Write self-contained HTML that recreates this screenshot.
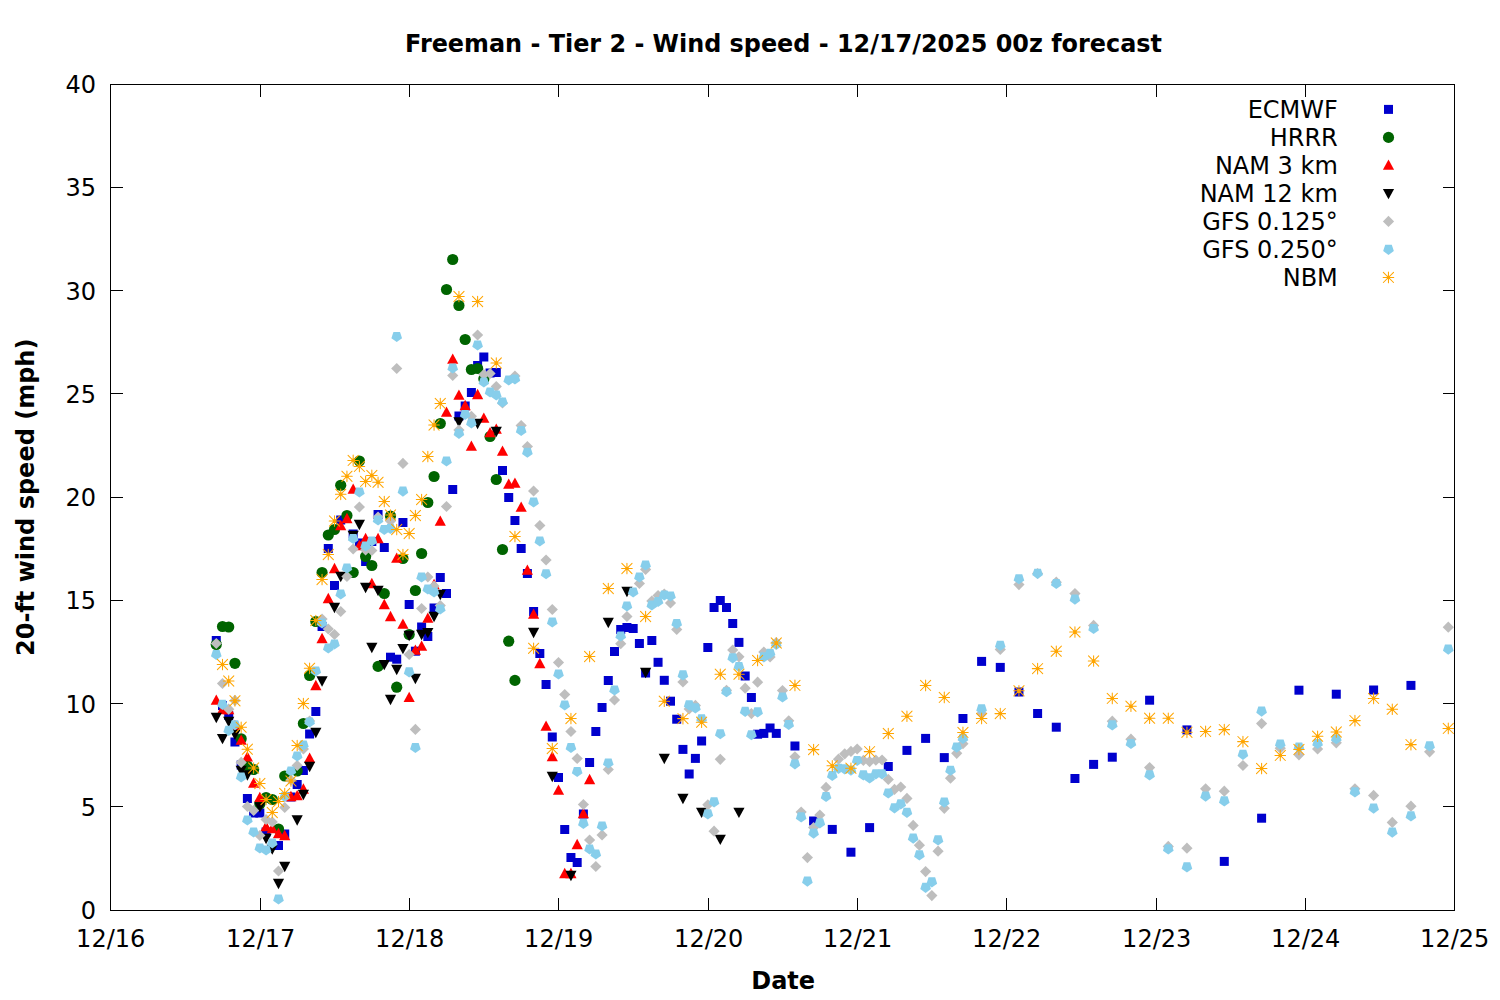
<!DOCTYPE html><html><head><meta charset="utf-8"><title>Freeman - Tier 2 - Wind speed</title><style>html,body{margin:0;padding:0;background:#fff;width:1500px;height:1000px;overflow:hidden}svg{display:block}text{font-family:"DejaVu Sans","Liberation Sans",sans-serif;font-size:24px;fill:#000}.b{font-weight:bold}.t{font-size:23.9px}</style></head><body>
<svg width="1500" height="1000" viewBox="0 0 1500 1000">
<rect width="1500" height="1000" fill="#fff"/>
<g fill="#0000cd"><rect x="211.78" y="636.00" width="9" height="9"/><rect x="218.00" y="701.10" width="9" height="9"/><rect x="224.22" y="710.90" width="9" height="9"/><rect x="230.44" y="737.50" width="9" height="9"/><rect x="236.67" y="760.50" width="9" height="9"/><rect x="242.89" y="794.00" width="9" height="9"/><rect x="249.11" y="808.50" width="9" height="9"/><rect x="255.33" y="808.50" width="9" height="9"/><rect x="261.56" y="827.50" width="9" height="9"/><rect x="274.00" y="841.00" width="9" height="9"/><rect x="280.22" y="829.50" width="9" height="9"/><rect x="286.44" y="792.50" width="9" height="9"/><rect x="292.67" y="780.00" width="9" height="9"/><rect x="298.89" y="766.00" width="9" height="9"/><rect x="305.11" y="729.50" width="9" height="9"/><rect x="311.33" y="707.00" width="9" height="9"/><rect x="317.56" y="622.00" width="9" height="9"/><rect x="330.00" y="581.00" width="9" height="9"/><rect x="336.22" y="515.50" width="9" height="9"/><rect x="348.67" y="529.50" width="9" height="9"/><rect x="354.89" y="538.50" width="9" height="9"/><rect x="361.11" y="557.00" width="9" height="9"/><rect x="367.33" y="537.00" width="9" height="9"/><rect x="373.56" y="510.00" width="9" height="9"/><rect x="379.78" y="543.00" width="9" height="9"/><rect x="386.00" y="652.70" width="9" height="9"/><rect x="392.22" y="654.70" width="9" height="9"/><rect x="398.44" y="518.00" width="9" height="9"/><rect x="404.67" y="600.00" width="9" height="9"/><rect x="410.89" y="646.70" width="9" height="9"/><rect x="417.11" y="622.50" width="9" height="9"/><rect x="423.33" y="632.00" width="9" height="9"/><rect x="429.56" y="603.50" width="9" height="9"/><rect x="435.78" y="573.00" width="9" height="9"/><rect x="442.00" y="589.00" width="9" height="9"/><rect x="448.22" y="485.00" width="9" height="9"/><rect x="454.44" y="411.50" width="9" height="9"/><rect x="460.67" y="401.50" width="9" height="9"/><rect x="466.89" y="388.00" width="9" height="9"/><rect x="473.11" y="361.00" width="9" height="9"/><rect x="479.33" y="352.50" width="9" height="9"/><rect x="485.56" y="368.50" width="9" height="9"/><rect x="491.78" y="368.00" width="9" height="9"/><rect x="498.00" y="466.00" width="9" height="9"/><rect x="504.22" y="493.00" width="9" height="9"/><rect x="510.44" y="516.00" width="9" height="9"/><rect x="516.67" y="544.00" width="9" height="9"/><rect x="522.89" y="569.00" width="9" height="9"/><rect x="529.11" y="607.00" width="9" height="9"/><rect x="535.33" y="649.00" width="9" height="9"/><rect x="541.56" y="680.00" width="9" height="9"/><rect x="547.78" y="732.50" width="9" height="9"/><rect x="554.00" y="773.00" width="9" height="9"/><rect x="560.22" y="825.00" width="9" height="9"/><rect x="566.44" y="853.00" width="9" height="9"/><rect x="572.67" y="858.00" width="9" height="9"/><rect x="578.89" y="809.50" width="9" height="9"/><rect x="585.11" y="758.00" width="9" height="9"/><rect x="591.33" y="727.00" width="9" height="9"/><rect x="597.56" y="703.00" width="9" height="9"/><rect x="603.78" y="676.00" width="9" height="9"/><rect x="610.00" y="647.00" width="9" height="9"/><rect x="616.22" y="625.00" width="9" height="9"/><rect x="622.44" y="623.00" width="9" height="9"/><rect x="628.67" y="624.00" width="9" height="9"/><rect x="634.89" y="639.00" width="9" height="9"/><rect x="641.11" y="668.50" width="9" height="9"/><rect x="647.33" y="636.00" width="9" height="9"/><rect x="653.56" y="657.80" width="9" height="9"/><rect x="659.78" y="675.80" width="9" height="9"/><rect x="666.00" y="696.70" width="9" height="9"/><rect x="672.22" y="714.70" width="9" height="9"/><rect x="678.44" y="744.90" width="9" height="9"/><rect x="684.67" y="769.50" width="9" height="9"/><rect x="690.89" y="753.90" width="9" height="9"/><rect x="697.11" y="736.50" width="9" height="9"/><rect x="703.33" y="643.00" width="9" height="9"/><rect x="709.56" y="603.00" width="9" height="9"/><rect x="715.78" y="596.00" width="9" height="9"/><rect x="722.00" y="603.00" width="9" height="9"/><rect x="728.22" y="619.00" width="9" height="9"/><rect x="323.78" y="544.00" width="9" height="9"/><rect x="740.67" y="671.50" width="9" height="9"/><rect x="746.89" y="693.00" width="9" height="9"/><rect x="753.11" y="729.70" width="9" height="9"/><rect x="759.33" y="728.90" width="9" height="9"/><rect x="765.56" y="723.50" width="9" height="9"/><rect x="771.78" y="728.90" width="9" height="9"/><rect x="790.44" y="741.50" width="9" height="9"/><rect x="809.11" y="816.50" width="9" height="9"/><rect x="827.78" y="824.90" width="9" height="9"/><rect x="846.44" y="847.70" width="9" height="9"/><rect x="865.11" y="823.10" width="9" height="9"/><rect x="883.78" y="762.00" width="9" height="9"/><rect x="902.44" y="745.90" width="9" height="9"/><rect x="921.11" y="733.90" width="9" height="9"/><rect x="939.78" y="753.10" width="9" height="9"/><rect x="958.44" y="714.00" width="9" height="9"/><rect x="977.11" y="656.90" width="9" height="9"/><rect x="995.78" y="662.90" width="9" height="9"/><rect x="1014.44" y="687.50" width="9" height="9"/><rect x="1033.11" y="709.00" width="9" height="9"/><rect x="1051.78" y="722.70" width="9" height="9"/><rect x="1070.44" y="774.00" width="9" height="9"/><rect x="1089.11" y="759.90" width="9" height="9"/><rect x="1107.78" y="752.70" width="9" height="9"/><rect x="1145.11" y="695.70" width="9" height="9"/><rect x="1182.44" y="725.40" width="9" height="9"/><rect x="1219.78" y="856.90" width="9" height="9"/><rect x="1257.11" y="813.70" width="9" height="9"/><rect x="1294.44" y="685.70" width="9" height="9"/><rect x="1331.78" y="689.70" width="9" height="9"/><rect x="1369.11" y="685.50" width="9" height="9"/><rect x="1406.44" y="680.90" width="9" height="9"/><rect x="734.44" y="637.90" width="9" height="9"/></g>
<g fill="#006400"><circle cx="303.39" cy="723.50" r="5.6"/><circle cx="216.28" cy="644.50" r="5.6"/><circle cx="222.50" cy="626.50" r="5.6"/><circle cx="228.72" cy="627.00" r="5.6"/><circle cx="234.94" cy="663.30" r="5.6"/><circle cx="241.17" cy="738.80" r="5.6"/><circle cx="247.39" cy="766.00" r="5.6"/><circle cx="253.61" cy="769.50" r="5.6"/><circle cx="259.83" cy="804.00" r="5.6"/><circle cx="266.06" cy="797.50" r="5.6"/><circle cx="272.28" cy="799.50" r="5.6"/><circle cx="278.50" cy="829.00" r="5.6"/><circle cx="284.72" cy="776.00" r="5.6"/><circle cx="297.17" cy="771.00" r="5.6"/><circle cx="315.83" cy="621.50" r="5.6"/><circle cx="309.61" cy="675.50" r="5.6"/><circle cx="322.06" cy="572.50" r="5.6"/><circle cx="353.17" cy="572.50" r="5.6"/><circle cx="328.28" cy="535.00" r="5.6"/><circle cx="334.50" cy="529.50" r="5.6"/><circle cx="340.72" cy="485.30" r="5.6"/><circle cx="346.94" cy="515.50" r="5.6"/><circle cx="359.39" cy="461.00" r="5.6"/><circle cx="365.61" cy="556.50" r="5.6"/><circle cx="371.83" cy="565.50" r="5.6"/><circle cx="378.06" cy="666.40" r="5.6"/><circle cx="384.28" cy="593.50" r="5.6"/><circle cx="390.50" cy="516.00" r="5.6"/><circle cx="396.72" cy="687.20" r="5.6"/><circle cx="402.94" cy="558.50" r="5.6"/><circle cx="409.17" cy="634.50" r="5.6"/><circle cx="415.39" cy="590.50" r="5.6"/><circle cx="421.61" cy="553.50" r="5.6"/><circle cx="427.83" cy="502.50" r="5.6"/><circle cx="434.06" cy="476.50" r="5.6"/><circle cx="440.28" cy="423.50" r="5.6"/><circle cx="446.50" cy="289.50" r="5.6"/><circle cx="452.72" cy="259.50" r="5.6"/><circle cx="458.94" cy="305.50" r="5.6"/><circle cx="465.17" cy="339.50" r="5.6"/><circle cx="471.39" cy="369.50" r="5.6"/><circle cx="477.61" cy="368.50" r="5.6"/><circle cx="483.83" cy="379.00" r="5.6"/><circle cx="490.06" cy="436.50" r="5.6"/><circle cx="496.28" cy="479.50" r="5.6"/><circle cx="502.50" cy="549.50" r="5.6"/><circle cx="508.72" cy="641.20" r="5.6"/><circle cx="514.94" cy="680.40" r="5.6"/></g>
<g fill="#ff0000"><path d="M216.28 694.45L221.88 704.75H210.68Z"/><path d="M222.50 703.85L228.10 714.15H216.90Z"/><path d="M228.72 703.85L234.32 714.15H223.12Z"/><path d="M234.94 719.65L240.54 729.95H229.34Z"/><path d="M241.17 734.45L246.77 744.75H235.57Z"/><path d="M247.39 751.25L252.99 761.55H241.79Z"/><path d="M253.61 777.55L259.21 787.85H248.01Z"/><path d="M259.83 791.75L265.43 802.05H254.23Z"/><path d="M266.06 820.85L271.66 831.15H260.46Z"/><path d="M272.28 822.85L277.88 833.15H266.68Z"/><path d="M278.50 827.85L284.10 838.15H272.90Z"/><path d="M284.72 829.85L290.32 840.15H279.12Z"/><path d="M290.94 790.85L296.54 801.15H285.34Z"/><path d="M297.17 790.05L302.77 800.35H291.57Z"/><path d="M303.39 783.35L308.99 793.65H297.79Z"/><path d="M309.61 752.55L315.21 762.85H304.01Z"/><path d="M322.06 632.85L327.66 643.15H316.46Z"/><path d="M315.83 679.85L321.43 690.15H310.23Z"/><path d="M328.28 592.85L333.88 603.15H322.68Z"/><path d="M334.50 562.85L340.10 573.15H328.90Z"/><path d="M340.72 519.85L346.32 530.15H335.12Z"/><path d="M346.94 512.85L352.54 523.15H341.34Z"/><path d="M353.17 483.45L358.77 493.75H347.57Z"/><path d="M359.39 539.85L364.99 550.15H353.79Z"/><path d="M365.61 532.85L371.21 543.15H360.01Z"/><path d="M371.83 577.85L377.43 588.15H366.23Z"/><path d="M378.06 532.85L383.66 543.15H372.46Z"/><path d="M384.28 598.85L389.88 609.15H378.68Z"/><path d="M390.50 610.85L396.10 621.15H384.90Z"/><path d="M396.72 552.55L402.32 562.85H391.12Z"/><path d="M402.94 618.55L408.54 628.85H397.34Z"/><path d="M409.17 691.65L414.77 701.95H403.57Z"/><path d="M415.39 644.55L420.99 654.85H409.79Z"/><path d="M421.61 640.55L427.21 650.85H416.01Z"/><path d="M427.83 612.55L433.43 622.85H422.23Z"/><path d="M434.06 578.85L439.66 589.15H428.46Z"/><path d="M440.28 515.55L445.88 525.85H434.68Z"/><path d="M446.50 406.55L452.10 416.85H440.90Z"/><path d="M452.72 353.55L458.32 363.85H447.12Z"/><path d="M458.94 389.55L464.54 399.85H453.34Z"/><path d="M465.17 399.85L470.77 410.15H459.57Z"/><path d="M471.39 440.55L476.99 450.85H465.79Z"/><path d="M477.61 388.85L483.21 399.15H472.01Z"/><path d="M483.83 412.55L489.43 422.85H478.23Z"/><path d="M490.06 427.05L495.66 437.35H484.46Z"/><path d="M496.28 423.55L501.88 433.85H490.68Z"/><path d="M502.50 445.55L508.10 455.85H496.90Z"/><path d="M508.72 478.55L514.32 488.85H503.12Z"/><path d="M514.94 477.55L520.54 487.85H509.34Z"/><path d="M521.17 501.55L526.77 511.85H515.57Z"/><path d="M527.39 564.55L532.99 574.85H521.79Z"/><path d="M533.61 608.55L539.21 618.85H528.01Z"/><path d="M539.83 657.85L545.43 668.15H534.23Z"/><path d="M546.06 720.55L551.66 730.85H540.46Z"/><path d="M552.28 751.05L557.88 761.35H546.68Z"/><path d="M558.50 784.55L564.10 794.85H552.90Z"/><path d="M564.72 867.85L570.32 878.15H559.12Z"/><path d="M570.94 867.85L576.54 878.15H565.34Z"/><path d="M577.17 838.85L582.77 849.15H571.57Z"/><path d="M583.39 807.85L588.99 818.15H577.79Z"/><path d="M589.61 773.85L595.21 784.15H584.01Z"/></g>
<g fill="#000000"><path d="M216.28 723.15L221.88 712.85H210.68Z"/><path d="M222.50 744.35L228.10 734.05H216.90Z"/><path d="M228.72 727.15L234.32 716.85H223.12Z"/><path d="M234.94 739.95L240.54 729.65H229.34Z"/><path d="M241.17 776.15L246.77 765.85H235.57Z"/><path d="M247.39 780.65L252.99 770.35H241.79Z"/><path d="M259.83 812.65L265.43 802.35H254.23Z"/><path d="M266.06 844.15L271.66 833.85H260.46Z"/><path d="M272.28 854.65L277.88 844.35H266.68Z"/><path d="M278.50 889.15L284.10 878.85H272.90Z"/><path d="M284.72 872.15L290.32 861.85H279.12Z"/><path d="M297.17 825.65L302.77 815.35H291.57Z"/><path d="M303.39 800.15L308.99 789.85H297.79Z"/><path d="M309.61 772.15L315.21 761.85H304.01Z"/><path d="M315.83 738.15L321.43 727.85H310.23Z"/><path d="M334.50 613.15L340.10 602.85H328.90Z"/><path d="M322.06 686.65L327.66 676.35H316.46Z"/><path d="M340.72 582.15L346.32 571.85H335.12Z"/><path d="M353.17 541.15L358.77 530.85H347.57Z"/><path d="M359.39 530.15L364.99 519.85H353.79Z"/><path d="M365.61 593.15L371.21 582.85H360.01Z"/><path d="M371.83 653.15L377.43 642.85H366.23Z"/><path d="M378.06 596.15L383.66 585.85H372.46Z"/><path d="M384.28 670.35L389.88 660.05H378.68Z"/><path d="M390.50 705.15L396.10 694.85H384.90Z"/><path d="M396.72 675.15L402.32 664.85H391.12Z"/><path d="M402.94 654.35L408.54 644.05H397.34Z"/><path d="M409.17 641.15L414.77 630.85H403.57Z"/><path d="M415.39 684.15L420.99 673.85H409.79Z"/><path d="M421.61 640.15L427.21 629.85H416.01Z"/><path d="M427.83 638.35L433.43 628.05H422.23Z"/><path d="M434.06 622.15L439.66 611.85H428.46Z"/><path d="M440.28 600.15L445.88 589.85H434.68Z"/><path d="M458.94 427.45L464.54 417.15H453.34Z"/><path d="M477.61 429.15L483.21 418.85H472.01Z"/><path d="M496.28 437.15L501.88 426.85H490.68Z"/><path d="M533.61 638.15L539.21 627.85H528.01Z"/><path d="M552.28 782.15L557.88 771.85H546.68Z"/><path d="M570.94 881.15L576.54 870.85H565.34Z"/><path d="M608.28 628.15L613.88 617.85H602.68Z"/><path d="M626.94 597.15L632.54 586.85H621.34Z"/><path d="M645.61 678.15L651.21 667.85H640.01Z"/><path d="M664.28 764.15L669.88 753.85H658.68Z"/><path d="M682.94 804.15L688.54 793.85H677.34Z"/><path d="M701.61 817.95L707.21 807.65H696.01Z"/><path d="M720.28 845.05L725.88 834.75H714.68Z"/><path d="M738.94 817.95L744.54 807.65H733.34Z"/></g>
<g fill="#bebebe"><path d="M309.61 715.40L315.21 721.00L309.61 726.60L304.01 721.00Z"/><path d="M216.28 637.90L221.88 643.50L216.28 649.10L210.68 643.50Z"/><path d="M222.50 677.90L228.10 683.50L222.50 689.10L216.90 683.50Z"/><path d="M228.72 703.60L234.32 709.20L228.72 714.80L223.12 709.20Z"/><path d="M234.94 694.80L240.54 700.40L234.94 706.00L229.34 700.40Z"/><path d="M241.17 756.80L246.77 762.40L241.17 768.00L235.57 762.40Z"/><path d="M247.39 800.90L252.99 806.50L247.39 812.10L241.79 806.50Z"/><path d="M253.61 804.90L259.21 810.50L253.61 816.10L248.01 810.50Z"/><path d="M259.83 829.90L265.43 835.50L259.83 841.10L254.23 835.50Z"/><path d="M266.06 813.90L271.66 819.50L266.06 825.10L260.46 819.50Z"/><path d="M272.28 816.40L277.88 822.00L272.28 827.60L266.68 822.00Z"/><path d="M278.50 865.40L284.10 871.00L278.50 876.60L272.90 871.00Z"/><path d="M284.72 801.90L290.32 807.50L284.72 813.10L279.12 807.50Z"/><path d="M290.94 774.40L296.54 780.00L290.94 785.60L285.34 780.00Z"/><path d="M297.17 759.90L302.77 765.50L297.17 771.10L291.57 765.50Z"/><path d="M303.39 743.40L308.99 749.00L303.39 754.60L297.79 749.00Z"/><path d="M340.72 605.90L346.32 611.50L340.72 617.10L335.12 611.50Z"/><path d="M322.06 613.40L327.66 619.00L322.06 624.60L316.46 619.00Z"/><path d="M328.28 623.40L333.88 629.00L328.28 634.60L322.68 629.00Z"/><path d="M334.50 628.90L340.10 634.50L334.50 640.10L328.90 634.50Z"/><path d="M346.94 570.90L352.54 576.50L346.94 582.10L341.34 576.50Z"/><path d="M353.17 543.40L358.77 549.00L353.17 554.60L347.57 549.00Z"/><path d="M359.39 501.40L364.99 507.00L359.39 512.60L353.79 507.00Z"/><path d="M365.61 544.40L371.21 550.00L365.61 555.60L360.01 550.00Z"/><path d="M371.83 544.90L377.43 550.50L371.83 556.10L366.23 550.50Z"/><path d="M378.06 511.40L383.66 517.00L378.06 522.60L372.46 517.00Z"/><path d="M390.50 515.40L396.10 521.00L390.50 526.60L384.90 521.00Z"/><path d="M402.94 457.80L408.54 463.40L402.94 469.00L397.34 463.40Z"/><path d="M409.17 648.90L414.77 654.50L409.17 660.10L403.57 654.50Z"/><path d="M421.61 602.90L427.21 608.50L421.61 614.10L416.01 608.50Z"/><path d="M427.83 571.40L433.43 577.00L427.83 582.60L422.23 577.00Z"/><path d="M434.06 580.40L439.66 586.00L434.06 591.60L428.46 586.00Z"/><path d="M440.28 599.90L445.88 605.50L440.28 611.10L434.68 605.50Z"/><path d="M446.50 500.90L452.10 506.50L446.50 512.10L440.90 506.50Z"/><path d="M452.72 369.90L458.32 375.50L452.72 381.10L447.12 375.50Z"/><path d="M458.94 424.40L464.54 430.00L458.94 435.60L453.34 430.00Z"/><path d="M471.39 410.70L476.99 416.30L471.39 421.90L465.79 416.30Z"/><path d="M477.61 329.40L483.21 335.00L477.61 340.60L472.01 335.00Z"/><path d="M483.83 368.90L489.43 374.50L483.83 380.10L478.23 374.50Z"/><path d="M490.06 367.90L495.66 373.50L490.06 379.10L484.46 373.50Z"/><path d="M496.28 380.90L501.88 386.50L496.28 392.10L490.68 386.50Z"/><path d="M502.50 397.40L508.10 403.00L502.50 408.60L496.90 403.00Z"/><path d="M514.94 370.40L520.54 376.00L514.94 381.60L509.34 376.00Z"/><path d="M521.17 419.90L526.77 425.50L521.17 431.10L515.57 425.50Z"/><path d="M527.39 440.90L532.99 446.50L527.39 452.10L521.79 446.50Z"/><path d="M533.61 485.40L539.21 491.00L533.61 496.60L528.01 491.00Z"/><path d="M539.83 519.90L545.43 525.50L539.83 531.10L534.23 525.50Z"/><path d="M546.06 554.40L551.66 560.00L546.06 565.60L540.46 560.00Z"/><path d="M552.28 603.90L557.88 609.50L552.28 615.10L546.68 609.50Z"/><path d="M558.50 656.90L564.10 662.50L558.50 668.10L552.90 662.50Z"/><path d="M564.72 688.90L570.32 694.50L564.72 700.10L559.12 694.50Z"/><path d="M570.94 725.90L576.54 731.50L570.94 737.10L565.34 731.50Z"/><path d="M577.17 752.90L582.77 758.50L577.17 764.10L571.57 758.50Z"/><path d="M583.39 798.90L588.99 804.50L583.39 810.10L577.79 804.50Z"/><path d="M589.61 834.40L595.21 840.00L589.61 845.60L584.01 840.00Z"/><path d="M595.83 860.90L601.43 866.50L595.83 872.10L590.23 866.50Z"/><path d="M602.06 829.40L607.66 835.00L602.06 840.60L596.46 835.00Z"/><path d="M608.28 763.90L613.88 769.50L608.28 775.10L602.68 769.50Z"/><path d="M614.50 694.40L620.10 700.00L614.50 705.60L608.90 700.00Z"/><path d="M620.72 638.10L626.32 643.70L620.72 649.30L615.12 643.70Z"/><path d="M626.94 610.90L632.54 616.50L626.94 622.10L621.34 616.50Z"/><path d="M639.39 577.90L644.99 583.50L639.39 589.10L633.79 583.50Z"/><path d="M645.61 563.90L651.21 569.50L645.61 575.10L640.01 569.50Z"/><path d="M651.83 595.40L657.43 601.00L651.83 606.60L646.23 601.00Z"/><path d="M658.06 589.90L663.66 595.50L658.06 601.10L652.46 595.50Z"/><path d="M664.28 588.40L669.88 594.00L664.28 599.60L658.68 594.00Z"/><path d="M670.50 597.40L676.10 603.00L670.50 608.60L664.90 603.00Z"/><path d="M676.72 623.90L682.32 629.50L676.72 635.10L671.12 629.50Z"/><path d="M682.94 676.40L688.54 682.00L682.94 687.60L677.34 682.00Z"/><path d="M689.17 703.40L694.77 709.00L689.17 714.60L683.57 709.00Z"/><path d="M695.39 699.80L700.99 705.40L695.39 711.00L689.79 705.40Z"/><path d="M707.83 799.20L713.43 804.80L707.83 810.40L702.23 804.80Z"/><path d="M714.06 825.60L719.66 831.20L714.06 836.80L708.46 831.20Z"/><path d="M720.28 753.70L725.88 759.30L720.28 764.90L714.68 759.30Z"/><path d="M726.50 684.70L732.10 690.30L726.50 695.90L720.90 690.30Z"/><path d="M732.72 644.40L738.32 650.00L732.72 655.60L727.12 650.00Z"/><path d="M396.72 362.90L402.32 368.50L396.72 374.10L391.12 368.50Z"/><path d="M415.39 723.80L420.99 729.40L415.39 735.00L409.79 729.40Z"/><path d="M738.94 651.20L744.54 656.80L738.94 662.40L733.34 656.80Z"/><path d="M745.17 682.60L750.77 688.20L745.17 693.80L739.57 688.20Z"/><path d="M751.39 708.00L756.99 713.60L751.39 719.20L745.79 713.60Z"/><path d="M757.61 676.60L763.21 682.20L757.61 687.80L752.01 682.20Z"/><path d="M763.83 646.40L769.43 652.00L763.83 657.60L758.23 652.00Z"/><path d="M770.06 651.40L775.66 657.00L770.06 662.60L764.46 657.00Z"/><path d="M776.28 636.90L781.88 642.50L776.28 648.10L770.68 642.50Z"/><path d="M782.50 685.00L788.10 690.60L782.50 696.20L776.90 690.60Z"/><path d="M788.72 715.20L794.32 720.80L788.72 726.40L783.12 720.80Z"/><path d="M794.94 751.20L800.54 756.80L794.94 762.40L789.34 756.80Z"/><path d="M801.17 806.40L806.77 812.00L801.17 817.60L795.57 812.00Z"/><path d="M807.39 852.00L812.99 857.60L807.39 863.20L801.79 857.60Z"/><path d="M813.61 822.00L819.21 827.60L813.61 833.20L808.01 827.60Z"/><path d="M819.83 809.40L825.43 815.00L819.83 820.60L814.23 815.00Z"/><path d="M826.06 781.80L831.66 787.40L826.06 793.00L820.46 787.40Z"/><path d="M838.50 753.60L844.10 759.20L838.50 764.80L832.90 759.20Z"/><path d="M844.72 748.20L850.32 753.80L844.72 759.40L839.12 753.80Z"/><path d="M850.94 745.80L856.54 751.40L850.94 757.00L845.34 751.40Z"/><path d="M857.17 743.40L862.77 749.00L857.17 754.60L851.57 749.00Z"/><path d="M863.39 754.80L868.99 760.40L863.39 766.00L857.79 760.40Z"/><path d="M869.61 756.00L875.21 761.60L869.61 767.20L864.01 761.60Z"/><path d="M875.83 754.60L881.43 760.20L875.83 765.80L870.23 760.20Z"/><path d="M882.06 754.40L887.66 760.00L882.06 765.60L876.46 760.00Z"/><path d="M888.28 773.80L893.88 779.40L888.28 785.00L882.68 779.40Z"/><path d="M894.50 783.80L900.10 789.40L894.50 795.00L888.90 789.40Z"/><path d="M900.72 781.40L906.32 787.00L900.72 792.60L895.12 787.00Z"/><path d="M906.94 792.80L912.54 798.40L906.94 804.00L901.34 798.40Z"/><path d="M913.17 819.80L918.77 825.40L913.17 831.00L907.57 825.40Z"/><path d="M919.39 839.60L924.99 845.20L919.39 850.80L913.79 845.20Z"/><path d="M925.61 866.00L931.21 871.60L925.61 877.20L920.01 871.60Z"/><path d="M931.83 890.00L937.43 895.60L931.83 901.20L926.23 895.60Z"/><path d="M938.06 845.60L943.66 851.20L938.06 856.80L932.46 851.20Z"/><path d="M944.28 802.70L949.88 808.30L944.28 813.90L938.68 808.30Z"/><path d="M950.50 772.60L956.10 778.20L950.50 783.80L944.90 778.20Z"/><path d="M956.72 747.70L962.32 753.30L956.72 758.90L951.12 753.30Z"/><path d="M962.94 738.10L968.54 743.70L962.94 749.30L957.34 743.70Z"/><path d="M981.61 708.00L987.21 713.60L981.61 719.20L976.01 713.60Z"/><path d="M1000.28 643.80L1005.88 649.40L1000.28 655.00L994.68 649.40Z"/><path d="M1018.94 579.00L1024.54 584.60L1018.94 590.20L1013.34 584.60Z"/><path d="M1037.61 567.90L1043.21 573.50L1037.61 579.10L1032.01 573.50Z"/><path d="M1056.28 576.60L1061.88 582.20L1056.28 587.80L1050.68 582.20Z"/><path d="M1074.94 588.00L1080.54 593.60L1074.94 599.20L1069.34 593.60Z"/><path d="M1093.61 619.80L1099.21 625.40L1093.61 631.00L1088.01 625.40Z"/><path d="M1112.28 715.60L1117.88 721.20L1112.28 726.80L1106.68 721.20Z"/><path d="M1130.94 733.60L1136.54 739.20L1130.94 744.80L1125.34 739.20Z"/><path d="M1149.61 762.00L1155.21 767.60L1149.61 773.20L1144.01 767.60Z"/><path d="M1168.28 840.80L1173.88 846.40L1168.28 852.00L1162.68 846.40Z"/><path d="M1186.94 842.60L1192.54 848.20L1186.94 853.80L1181.34 848.20Z"/><path d="M1205.61 783.20L1211.21 788.80L1205.61 794.40L1200.01 788.80Z"/><path d="M1224.28 785.60L1229.88 791.20L1224.28 796.80L1218.68 791.20Z"/><path d="M1242.94 759.90L1248.54 765.50L1242.94 771.10L1237.34 765.50Z"/><path d="M1261.61 718.00L1267.21 723.60L1261.61 729.20L1256.01 723.60Z"/><path d="M1280.28 742.60L1285.88 748.20L1280.28 753.80L1274.68 748.20Z"/><path d="M1298.94 749.20L1304.54 754.80L1298.94 760.40L1293.34 754.80Z"/><path d="M1317.61 743.40L1323.21 749.00L1317.61 754.60L1312.01 749.00Z"/><path d="M1336.28 737.20L1341.88 742.80L1336.28 748.40L1330.68 742.80Z"/><path d="M1354.94 783.20L1360.54 788.80L1354.94 794.40L1349.34 788.80Z"/><path d="M1373.61 789.80L1379.21 795.40L1373.61 801.00L1368.01 795.40Z"/><path d="M1392.28 816.80L1397.88 822.40L1392.28 828.00L1386.68 822.40Z"/><path d="M1410.94 800.60L1416.54 806.20L1410.94 811.80L1405.34 806.20Z"/><path d="M1429.61 746.20L1435.21 751.80L1429.61 757.40L1424.01 751.80Z"/><path d="M1448.28 621.60L1453.88 627.20L1448.28 632.80L1442.68 627.20Z"/></g>
<g fill="#87ceeb"><path d="M216.28 660.10L210.95 656.23L212.99 649.97L219.57 649.97L221.61 656.23Z"/><path d="M222.50 709.90L217.17 706.03L219.21 699.77L225.79 699.77L227.83 706.03Z"/><path d="M228.72 735.90L223.39 732.03L225.43 725.77L232.01 725.77L234.05 732.03Z"/><path d="M234.94 730.30L229.61 726.43L231.65 720.17L238.23 720.17L240.27 726.43Z"/><path d="M241.17 782.60L235.84 778.73L237.88 772.47L244.46 772.47L246.50 778.73Z"/><path d="M247.39 825.60L242.06 821.73L244.10 815.47L250.68 815.47L252.72 821.73Z"/><path d="M253.61 837.60L248.28 833.73L250.32 827.47L256.90 827.47L258.94 833.73Z"/><path d="M259.83 853.60L254.50 849.73L256.54 843.47L263.12 843.47L265.16 849.73Z"/><path d="M266.06 855.60L260.73 851.73L262.77 845.47L269.35 845.47L271.39 851.73Z"/><path d="M272.28 848.60L266.95 844.73L268.99 838.47L275.57 838.47L277.61 844.73Z"/><path d="M278.50 904.60L273.17 900.73L275.21 894.47L281.79 894.47L283.83 900.73Z"/><path d="M284.72 802.10L279.39 798.23L281.43 791.97L288.01 791.97L290.05 798.23Z"/><path d="M290.94 776.60L285.61 772.73L287.65 766.47L294.23 766.47L296.27 772.73Z"/><path d="M297.17 761.60L291.84 757.73L293.88 751.47L300.46 751.47L302.50 757.73Z"/><path d="M303.39 750.60L298.06 746.73L300.10 740.47L306.68 740.47L308.72 746.73Z"/><path d="M309.61 727.60L304.28 723.73L306.32 717.47L312.90 717.47L314.94 723.73Z"/><path d="M322.06 628.60L316.73 624.73L318.77 618.47L325.35 618.47L327.39 624.73Z"/><path d="M328.28 653.60L322.95 649.73L324.99 643.47L331.57 643.47L333.61 649.73Z"/><path d="M334.50 649.60L329.17 645.73L331.21 639.47L337.79 639.47L339.83 645.73Z"/><path d="M315.83 676.60L310.50 672.73L312.54 666.47L319.12 666.47L321.16 672.73Z"/><path d="M340.72 599.60L335.39 595.73L337.43 589.47L344.01 589.47L346.05 595.73Z"/><path d="M346.94 573.60L341.61 569.73L343.65 563.47L350.23 563.47L352.27 569.73Z"/><path d="M353.17 544.10L347.84 540.23L349.88 533.97L356.46 533.97L358.50 540.23Z"/><path d="M359.39 497.60L354.06 493.73L356.10 487.47L362.68 487.47L364.72 493.73Z"/><path d="M365.61 551.60L360.28 547.73L362.32 541.47L368.90 541.47L370.94 547.73Z"/><path d="M371.83 546.60L366.50 542.73L368.54 536.47L375.12 536.47L377.16 542.73Z"/><path d="M378.06 525.60L372.73 521.73L374.77 515.47L381.35 515.47L383.39 521.73Z"/><path d="M384.28 535.10L378.95 531.23L380.99 524.97L387.57 524.97L389.61 531.23Z"/><path d="M390.50 534.10L385.17 530.23L387.21 523.97L393.79 523.97L395.83 530.23Z"/><path d="M402.94 496.70L397.61 492.83L399.65 486.57L406.23 486.57L408.27 492.83Z"/><path d="M409.17 677.50L403.84 673.63L405.88 667.37L412.46 667.37L414.50 673.63Z"/><path d="M421.61 582.60L416.28 578.73L418.32 572.47L424.90 572.47L426.94 578.73Z"/><path d="M427.83 594.60L422.50 590.73L424.54 584.47L431.12 584.47L433.16 590.73Z"/><path d="M434.06 597.60L428.73 593.73L430.77 587.47L437.35 587.47L439.39 593.73Z"/><path d="M440.28 614.60L434.95 610.73L436.99 604.47L443.57 604.47L445.61 610.73Z"/><path d="M446.50 466.60L441.17 462.73L443.21 456.47L449.79 456.47L451.83 462.73Z"/><path d="M452.72 373.60L447.39 369.73L449.43 363.47L456.01 363.47L458.05 369.73Z"/><path d="M458.94 438.90L453.61 435.03L455.65 428.77L462.23 428.77L464.27 435.03Z"/><path d="M465.17 420.10L459.84 416.23L461.88 409.97L468.46 409.97L470.50 416.23Z"/><path d="M471.39 428.60L466.06 424.73L468.10 418.47L474.68 418.47L476.72 424.73Z"/><path d="M477.61 350.60L472.28 346.73L474.32 340.47L480.90 340.47L482.94 346.73Z"/><path d="M483.83 387.60L478.50 383.73L480.54 377.47L487.12 377.47L489.16 383.73Z"/><path d="M490.06 397.60L484.73 393.73L486.77 387.47L493.35 387.47L495.39 393.73Z"/><path d="M496.28 400.60L490.95 396.73L492.99 390.47L499.57 390.47L501.61 396.73Z"/><path d="M502.50 407.60L497.17 403.73L499.21 397.47L505.79 397.47L507.83 403.73Z"/><path d="M508.72 385.60L503.39 381.73L505.43 375.47L512.01 375.47L514.05 381.73Z"/><path d="M514.94 384.60L509.61 380.73L511.65 374.47L518.23 374.47L520.27 380.73Z"/><path d="M521.17 436.10L515.84 432.23L517.88 425.97L524.46 425.97L526.50 432.23Z"/><path d="M527.39 457.80L522.06 453.93L524.10 447.67L530.68 447.67L532.72 453.93Z"/><path d="M533.61 507.60L528.28 503.73L530.32 497.47L536.90 497.47L538.94 503.73Z"/><path d="M539.83 546.60L534.50 542.73L536.54 536.47L543.12 536.47L545.16 542.73Z"/><path d="M546.06 579.30L540.73 575.43L542.77 569.17L549.35 569.17L551.39 575.43Z"/><path d="M552.28 627.60L546.95 623.73L548.99 617.47L555.57 617.47L557.61 623.73Z"/><path d="M558.50 679.60L553.17 675.73L555.21 669.47L561.79 669.47L563.83 675.73Z"/><path d="M564.72 710.60L559.39 706.73L561.43 700.47L568.01 700.47L570.05 706.73Z"/><path d="M570.94 753.10L565.61 749.23L567.65 742.97L574.23 742.97L576.27 749.23Z"/><path d="M577.17 777.10L571.84 773.23L573.88 766.97L580.46 766.97L582.50 773.23Z"/><path d="M583.39 829.10L578.06 825.23L580.10 818.97L586.68 818.97L588.72 825.23Z"/><path d="M589.61 854.60L584.28 850.73L586.32 844.47L592.90 844.47L594.94 850.73Z"/><path d="M595.83 859.60L590.50 855.73L592.54 849.47L599.12 849.47L601.16 855.73Z"/><path d="M602.06 831.60L596.73 827.73L598.77 821.47L605.35 821.47L607.39 827.73Z"/><path d="M608.28 768.60L602.95 764.73L604.99 758.47L611.57 758.47L613.61 764.73Z"/><path d="M614.50 695.60L609.17 691.73L611.21 685.47L617.79 685.47L619.83 691.73Z"/><path d="M620.72 641.60L615.39 637.73L617.43 631.47L624.01 631.47L626.05 637.73Z"/><path d="M626.94 611.60L621.61 607.73L623.65 601.47L630.23 601.47L632.27 607.73Z"/><path d="M633.17 597.60L627.84 593.73L629.88 587.47L636.46 587.47L638.50 593.73Z"/><path d="M639.39 582.60L634.06 578.73L636.10 572.47L642.68 572.47L644.72 578.73Z"/><path d="M645.61 570.60L640.28 566.73L642.32 560.47L648.90 560.47L650.94 566.73Z"/><path d="M651.83 610.60L646.50 606.73L648.54 600.47L655.12 600.47L657.16 606.73Z"/><path d="M658.06 607.10L652.73 603.23L654.77 596.97L661.35 596.97L663.39 603.23Z"/><path d="M664.28 600.60L658.95 596.73L660.99 590.47L667.57 590.47L669.61 596.73Z"/><path d="M670.50 601.60L665.17 597.73L667.21 591.47L673.79 591.47L675.83 597.73Z"/><path d="M676.72 629.10L671.39 625.23L673.43 618.97L680.01 618.97L682.05 625.23Z"/><path d="M682.94 680.50L677.61 676.63L679.65 670.37L686.23 670.37L688.27 676.63Z"/><path d="M689.17 710.50L683.84 706.63L685.88 700.37L692.46 700.37L694.50 706.63Z"/><path d="M695.39 713.50L690.06 709.63L692.10 703.37L698.68 703.37L700.72 709.63Z"/><path d="M701.61 724.30L696.28 720.43L698.32 714.17L704.90 714.17L706.94 720.43Z"/><path d="M707.83 819.50L702.50 815.63L704.54 809.37L711.12 809.37L713.16 815.63Z"/><path d="M714.06 807.50L708.73 803.63L710.77 797.37L717.35 797.37L719.39 803.63Z"/><path d="M720.28 739.30L714.95 735.43L716.99 729.17L723.57 729.17L725.61 735.43Z"/><path d="M726.50 697.30L721.17 693.43L723.21 687.17L729.79 687.17L731.83 693.43Z"/><path d="M732.72 663.40L727.39 659.53L729.43 653.27L736.01 653.27L738.05 659.53Z"/><path d="M396.72 342.10L391.39 338.23L393.43 331.97L400.01 331.97L402.05 338.23Z"/><path d="M415.39 753.10L410.06 749.23L412.10 742.97L418.68 742.97L420.72 749.23Z"/><path d="M738.94 672.10L733.61 668.23L735.65 661.97L742.23 661.97L744.27 668.23Z"/><path d="M745.17 716.90L739.84 713.03L741.88 706.77L748.46 706.77L750.50 713.03Z"/><path d="M751.39 740.30L746.06 736.43L748.10 730.17L754.68 730.17L756.72 736.43Z"/><path d="M757.61 717.50L752.28 713.63L754.32 707.37L760.90 707.37L762.94 713.63Z"/><path d="M763.83 662.50L758.50 658.63L760.54 652.37L767.12 652.37L769.16 658.63Z"/><path d="M770.06 658.90L764.73 655.03L766.77 648.77L773.35 648.77L775.39 655.03Z"/><path d="M776.28 649.90L770.95 646.03L772.99 639.77L779.57 639.77L781.61 646.03Z"/><path d="M782.50 702.60L777.17 698.73L779.21 692.47L785.79 692.47L787.83 698.73Z"/><path d="M788.72 730.10L783.39 726.23L785.43 719.97L792.01 719.97L794.05 726.23Z"/><path d="M794.94 769.40L789.61 765.53L791.65 759.27L798.23 759.27L800.27 765.53Z"/><path d="M801.17 822.50L795.84 818.63L797.88 812.37L804.46 812.37L806.50 818.63Z"/><path d="M807.39 886.70L802.06 882.83L804.10 876.57L810.68 876.57L812.72 882.83Z"/><path d="M813.61 838.70L808.28 834.83L810.32 828.57L816.90 828.57L818.94 834.83Z"/><path d="M819.83 828.50L814.50 824.63L816.54 818.37L823.12 818.37L825.16 824.63Z"/><path d="M826.06 802.10L820.73 798.23L822.77 791.97L829.35 791.97L831.39 798.23Z"/><path d="M832.28 781.10L826.95 777.23L828.99 770.97L835.57 770.97L837.61 777.23Z"/><path d="M838.50 773.90L833.17 770.03L835.21 763.77L841.79 763.77L843.83 770.03Z"/><path d="M844.72 774.50L839.39 770.63L841.43 764.37L848.01 764.37L850.05 770.63Z"/><path d="M850.94 775.70L845.61 771.83L847.65 765.57L854.23 765.57L856.27 771.83Z"/><path d="M857.17 766.10L851.84 762.23L853.88 755.97L860.46 755.97L862.50 762.23Z"/><path d="M863.39 780.50L858.06 776.63L860.10 770.37L866.68 770.37L868.72 776.63Z"/><path d="M869.61 783.50L864.28 779.63L866.32 773.37L872.90 773.37L874.94 779.63Z"/><path d="M875.83 779.40L870.50 775.53L872.54 769.27L879.12 769.27L881.16 775.53Z"/><path d="M882.06 779.40L876.73 775.53L878.77 769.27L885.35 769.27L887.39 775.53Z"/><path d="M888.28 798.60L882.95 794.73L884.99 788.47L891.57 788.47L893.61 794.73Z"/><path d="M894.50 813.40L889.17 809.53L891.21 803.27L897.79 803.27L899.83 809.53Z"/><path d="M900.72 809.50L895.39 805.63L897.43 799.37L904.01 799.37L906.05 805.63Z"/><path d="M906.94 817.90L901.61 814.03L903.65 807.77L910.23 807.77L912.27 814.03Z"/><path d="M913.17 843.70L907.84 839.83L909.88 833.57L916.46 833.57L918.50 839.83Z"/><path d="M919.39 860.50L914.06 856.63L916.10 850.37L922.68 850.37L924.72 856.63Z"/><path d="M925.61 892.90L920.28 889.03L922.32 882.77L928.90 882.77L930.94 889.03Z"/><path d="M931.83 887.50L926.50 883.63L928.54 877.37L935.12 877.37L937.16 883.63Z"/><path d="M938.06 845.50L932.73 841.63L934.77 835.37L941.35 835.37L943.39 841.63Z"/><path d="M944.28 807.70L938.95 803.83L940.99 797.57L947.57 797.57L949.61 803.83Z"/><path d="M950.50 775.80L945.17 771.93L947.21 765.67L953.79 765.67L955.83 771.93Z"/><path d="M956.72 752.70L951.39 748.83L953.43 742.57L960.01 742.57L962.05 748.83Z"/><path d="M962.94 744.00L957.61 740.13L959.65 733.87L966.23 733.87L968.27 740.13Z"/><path d="M981.61 714.50L976.28 710.63L978.32 704.37L984.90 704.37L986.94 710.63Z"/><path d="M1000.28 650.90L994.95 647.03L996.99 640.77L1003.57 640.77L1005.61 647.03Z"/><path d="M1018.94 584.30L1013.61 580.43L1015.65 574.17L1022.23 574.17L1024.27 580.43Z"/><path d="M1037.61 578.90L1032.28 575.03L1034.32 568.77L1040.90 568.77L1042.94 575.03Z"/><path d="M1056.28 589.10L1050.95 585.23L1052.99 578.97L1059.57 578.97L1061.61 585.23Z"/><path d="M1074.94 604.70L1069.61 600.83L1071.65 594.57L1078.23 594.57L1080.27 600.83Z"/><path d="M1093.61 634.10L1088.28 630.23L1090.32 623.97L1096.90 623.97L1098.94 630.23Z"/><path d="M1112.28 730.50L1106.95 726.63L1108.99 720.37L1115.57 720.37L1117.61 726.63Z"/><path d="M1130.94 749.10L1125.61 745.23L1127.65 738.97L1134.23 738.97L1136.27 745.23Z"/><path d="M1149.61 780.50L1144.28 776.63L1146.32 770.37L1152.90 770.37L1154.94 776.63Z"/><path d="M1168.28 854.50L1162.95 850.63L1164.99 844.37L1171.57 844.37L1173.61 850.63Z"/><path d="M1186.94 872.50L1181.61 868.63L1183.65 862.37L1190.23 862.37L1192.27 868.63Z"/><path d="M1205.61 801.70L1200.28 797.83L1202.32 791.57L1208.90 791.57L1210.94 797.83Z"/><path d="M1224.28 806.50L1218.95 802.63L1220.99 796.37L1227.57 796.37L1229.61 802.63Z"/><path d="M1242.94 759.90L1237.61 756.03L1239.65 749.77L1246.23 749.77L1248.27 756.03Z"/><path d="M1261.61 716.70L1256.28 712.83L1258.32 706.57L1264.90 706.57L1266.94 712.83Z"/><path d="M1280.28 749.70L1274.95 745.83L1276.99 739.57L1283.57 739.57L1285.61 745.83Z"/><path d="M1298.94 752.70L1293.61 748.83L1295.65 742.57L1302.23 742.57L1304.27 748.83Z"/><path d="M1317.61 749.10L1312.28 745.23L1314.32 738.97L1320.90 738.97L1322.94 745.23Z"/><path d="M1336.28 744.30L1330.95 740.43L1332.99 734.17L1339.57 734.17L1341.61 740.43Z"/><path d="M1354.94 797.50L1349.61 793.63L1351.65 787.37L1358.23 787.37L1360.27 793.63Z"/><path d="M1373.61 813.70L1368.28 809.83L1370.32 803.57L1376.90 803.57L1378.94 809.83Z"/><path d="M1392.28 837.70L1386.95 833.83L1388.99 827.57L1395.57 827.57L1397.61 833.83Z"/><path d="M1410.94 821.50L1405.61 817.63L1407.65 811.37L1414.23 811.37L1416.27 817.63Z"/><path d="M1429.61 751.50L1424.28 747.63L1426.32 741.37L1432.90 741.37L1434.94 747.63Z"/><path d="M1448.28 654.70L1442.95 650.83L1444.99 644.57L1451.57 644.57L1453.61 650.83Z"/></g>
<g fill="#ffa500" stroke="#ffa500" stroke-width="1.05" stroke-linecap="round"><path d="M222.50 659.20V669.80M217.20 664.50H227.80M217.40 659.40L227.60 669.60M217.40 669.60L227.60 659.40"/><circle cx="222.50" cy="664.50" r="1.3"/><path d="M228.72 675.70V686.30M223.42 681.00H234.02M223.62 675.90L233.82 686.10M223.62 686.10L233.82 675.90"/><circle cx="228.72" cy="681.00" r="1.3"/><path d="M234.94 695.50V706.10M229.64 700.80H240.24M229.84 695.70L240.04 705.90M229.84 705.90L240.04 695.70"/><circle cx="234.94" cy="700.80" r="1.3"/><path d="M241.17 721.90V732.50M235.87 727.20H246.47M236.07 722.10L246.27 732.30M236.07 732.30L246.27 722.10"/><circle cx="241.17" cy="727.20" r="1.3"/><path d="M247.39 743.90V754.50M242.09 749.20H252.69M242.29 744.10L252.49 754.30M242.29 754.30L252.49 744.10"/><circle cx="247.39" cy="749.20" r="1.3"/><path d="M253.61 762.70V773.30M248.31 768.00H258.91M248.51 762.90L258.71 773.10M248.51 773.10L258.71 762.90"/><circle cx="253.61" cy="768.00" r="1.3"/><path d="M259.83 778.20V788.80M254.53 783.50H265.13M254.73 778.40L264.93 788.60M254.73 788.60L264.93 778.40"/><circle cx="259.83" cy="783.50" r="1.3"/><path d="M266.06 794.20V804.80M260.76 799.50H271.36M260.96 794.40L271.16 804.60M260.96 804.60L271.16 794.40"/><circle cx="266.06" cy="799.50" r="1.3"/><path d="M272.28 807.20V817.80M266.98 812.50H277.58M267.18 807.40L277.38 817.60M267.18 817.60L277.38 807.40"/><circle cx="272.28" cy="812.50" r="1.3"/><path d="M278.50 796.20V806.80M273.20 801.50H283.80M273.40 796.40L283.60 806.60M273.40 806.60L283.60 796.40"/><circle cx="278.50" cy="801.50" r="1.3"/><path d="M284.72 788.20V798.80M279.42 793.50H290.02M279.62 788.40L289.82 798.60M279.62 798.60L289.82 788.40"/><circle cx="284.72" cy="793.50" r="1.3"/><path d="M290.94 775.70V786.30M285.64 781.00H296.24M285.84 775.90L296.04 786.10M285.84 786.10L296.04 775.90"/><circle cx="290.94" cy="781.00" r="1.3"/><path d="M297.17 740.20V750.80M291.87 745.50H302.47M292.07 740.40L302.27 750.60M292.07 750.60L302.27 740.40"/><circle cx="297.17" cy="745.50" r="1.3"/><path d="M303.39 698.20V708.80M298.09 703.50H308.69M298.29 698.40L308.49 708.60M298.29 708.60L308.49 698.40"/><circle cx="303.39" cy="703.50" r="1.3"/><path d="M315.83 615.20V625.80M310.53 620.50H321.13M310.73 615.40L320.93 625.60M310.73 625.60L320.93 615.40"/><circle cx="315.83" cy="620.50" r="1.3"/><path d="M309.61 663.00V673.60M304.31 668.30H314.91M304.51 663.20L314.71 673.40M304.51 673.40L314.71 663.20"/><circle cx="309.61" cy="668.30" r="1.3"/><path d="M322.06 574.20V584.80M316.76 579.50H327.36M316.96 574.40L327.16 584.60M316.96 584.60L327.16 574.40"/><circle cx="322.06" cy="579.50" r="1.3"/><path d="M334.50 515.70V526.30M329.20 521.00H339.80M329.40 515.90L339.60 526.10M329.40 526.10L339.60 515.90"/><circle cx="334.50" cy="521.00" r="1.3"/><path d="M340.72 489.00V499.60M335.42 494.30H346.02M335.62 489.20L345.82 499.40M335.62 499.40L345.82 489.20"/><circle cx="340.72" cy="494.30" r="1.3"/><path d="M346.94 471.00V481.60M341.64 476.30H352.24M341.84 471.20L352.04 481.40M341.84 481.40L352.04 471.20"/><circle cx="346.94" cy="476.30" r="1.3"/><path d="M353.17 455.10V465.70M347.87 460.40H358.47M348.07 455.30L358.27 465.50M348.07 465.50L358.27 455.30"/><circle cx="353.17" cy="460.40" r="1.3"/><path d="M359.39 461.10V471.70M354.09 466.40H364.69M354.29 461.30L364.49 471.50M354.29 471.50L364.49 461.30"/><circle cx="359.39" cy="466.40" r="1.3"/><path d="M365.61 476.10V486.70M360.31 481.40H370.91M360.51 476.30L370.71 486.50M360.51 486.50L370.71 476.30"/><circle cx="365.61" cy="481.40" r="1.3"/><path d="M371.83 470.10V480.70M366.53 475.40H377.13M366.73 470.30L376.93 480.50M366.73 480.50L376.93 470.30"/><circle cx="371.83" cy="475.40" r="1.3"/><path d="M378.06 477.00V487.60M372.76 482.30H383.36M372.96 477.20L383.16 487.40M372.96 487.40L383.16 477.20"/><circle cx="378.06" cy="482.30" r="1.3"/><path d="M384.28 496.20V506.80M378.98 501.50H389.58M379.18 496.40L389.38 506.60M379.18 506.60L389.38 496.40"/><circle cx="384.28" cy="501.50" r="1.3"/><path d="M390.50 509.70V520.30M385.20 515.00H395.80M385.40 509.90L395.60 520.10M385.40 520.10L395.60 509.90"/><circle cx="390.50" cy="515.00" r="1.3"/><path d="M396.72 524.20V534.80M391.42 529.50H402.02M391.62 524.40L401.82 534.60M391.62 534.60L401.82 524.40"/><circle cx="396.72" cy="529.50" r="1.3"/><path d="M402.94 549.20V559.80M397.64 554.50H408.24M397.84 549.40L408.04 559.60M397.84 559.60L408.04 549.40"/><circle cx="402.94" cy="554.50" r="1.3"/><path d="M409.17 528.20V538.80M403.87 533.50H414.47M404.07 528.40L414.27 538.60M404.07 538.60L414.27 528.40"/><circle cx="409.17" cy="533.50" r="1.3"/><path d="M415.39 510.20V520.80M410.09 515.50H420.69M410.29 510.40L420.49 520.60M410.29 520.60L420.49 510.40"/><circle cx="415.39" cy="515.50" r="1.3"/><path d="M421.61 494.20V504.80M416.31 499.50H426.91M416.51 494.40L426.71 504.60M416.51 504.60L426.71 494.40"/><circle cx="421.61" cy="499.50" r="1.3"/><path d="M427.83 451.20V461.80M422.53 456.50H433.13M422.73 451.40L432.93 461.60M422.73 461.60L432.93 451.40"/><circle cx="427.83" cy="456.50" r="1.3"/><path d="M434.06 419.70V430.30M428.76 425.00H439.36M428.96 419.90L439.16 430.10M428.96 430.10L439.16 419.90"/><circle cx="434.06" cy="425.00" r="1.3"/><path d="M440.28 398.20V408.80M434.98 403.50H445.58M435.18 398.40L445.38 408.60M435.18 408.60L445.38 398.40"/><circle cx="440.28" cy="403.50" r="1.3"/><path d="M458.94 291.20V301.80M453.64 296.50H464.24M453.84 291.40L464.04 301.60M453.84 301.60L464.04 291.40"/><circle cx="458.94" cy="296.50" r="1.3"/><path d="M477.61 296.20V306.80M472.31 301.50H482.91M472.51 296.40L482.71 306.60M472.51 306.60L482.71 296.40"/><circle cx="477.61" cy="301.50" r="1.3"/><path d="M496.28 357.70V368.30M490.98 363.00H501.58M491.18 357.90L501.38 368.10M491.18 368.10L501.38 357.90"/><circle cx="496.28" cy="363.00" r="1.3"/><path d="M514.94 531.20V541.80M509.64 536.50H520.24M509.84 531.40L520.04 541.60M509.84 541.60L520.04 531.40"/><circle cx="514.94" cy="536.50" r="1.3"/><path d="M533.61 643.00V653.60M528.31 648.30H538.91M528.51 643.20L538.71 653.40M528.51 653.40L538.71 643.20"/><circle cx="533.61" cy="648.30" r="1.3"/><path d="M552.28 743.20V753.80M546.98 748.50H557.58M547.18 743.40L557.38 753.60M547.18 753.60L557.38 743.40"/><circle cx="552.28" cy="748.50" r="1.3"/><path d="M570.94 713.20V723.80M565.64 718.50H576.24M565.84 713.40L576.04 723.60M565.84 723.60L576.04 713.40"/><circle cx="570.94" cy="718.50" r="1.3"/><path d="M589.61 651.20V661.80M584.31 656.50H594.91M584.51 651.40L594.71 661.60M584.51 661.60L594.71 651.40"/><circle cx="589.61" cy="656.50" r="1.3"/><path d="M608.28 583.20V593.80M602.98 588.50H613.58M603.18 583.40L613.38 593.60M603.18 593.60L613.38 583.40"/><circle cx="608.28" cy="588.50" r="1.3"/><path d="M626.94 563.20V573.80M621.64 568.50H632.24M621.84 563.40L632.04 573.60M621.84 573.60L632.04 563.40"/><circle cx="626.94" cy="568.50" r="1.3"/><path d="M645.61 611.20V621.80M640.31 616.50H650.91M640.51 611.40L650.71 621.60M640.51 621.60L650.71 611.40"/><circle cx="645.61" cy="616.50" r="1.3"/><path d="M664.28 695.90V706.50M658.98 701.20H669.58M659.18 696.10L669.38 706.30M659.18 706.30L669.38 696.10"/><circle cx="664.28" cy="701.20" r="1.3"/><path d="M682.94 713.30V723.90M677.64 718.60H688.24M677.84 713.50L688.04 723.70M677.84 723.70L688.04 713.50"/><circle cx="682.94" cy="718.60" r="1.3"/><path d="M701.61 716.90V727.50M696.31 722.20H706.91M696.51 717.10L706.71 727.30M696.51 727.30L706.71 717.10"/><circle cx="701.61" cy="722.20" r="1.3"/><path d="M720.28 668.90V679.50M714.98 674.20H725.58M715.18 669.10L725.38 679.30M715.18 679.30L725.38 669.10"/><circle cx="720.28" cy="674.20" r="1.3"/><path d="M328.28 549.20V559.80M322.98 554.50H333.58M323.18 549.40L333.38 559.60M323.18 559.60L333.38 549.40"/><circle cx="328.28" cy="554.50" r="1.3"/><path d="M738.94 668.90V679.50M733.64 674.20H744.24M733.84 669.10L744.04 679.30M733.84 679.30L744.04 669.10"/><circle cx="738.94" cy="674.20" r="1.3"/><path d="M757.61 655.10V665.70M752.31 660.40H762.91M752.51 655.30L762.71 665.50M752.51 665.50L762.71 655.30"/><circle cx="757.61" cy="660.40" r="1.3"/><path d="M776.28 637.70V648.30M770.98 643.00H781.58M771.18 637.90L781.38 648.10M771.18 648.10L781.38 637.90"/><circle cx="776.28" cy="643.00" r="1.3"/><path d="M794.94 680.10V690.70M789.64 685.40H800.24M789.84 680.30L800.04 690.50M789.84 690.50L800.04 680.30"/><circle cx="794.94" cy="685.40" r="1.3"/><path d="M813.61 744.30V754.90M808.31 749.60H818.91M808.51 744.50L818.71 754.70M808.51 754.70L818.71 744.50"/><circle cx="813.61" cy="749.60" r="1.3"/><path d="M832.28 760.50V771.10M826.98 765.80H837.58M827.18 760.70L837.38 770.90M827.18 770.90L837.38 760.70"/><circle cx="832.28" cy="765.80" r="1.3"/><path d="M850.94 762.90V773.50M845.64 768.20H856.24M845.84 763.10L856.04 773.30M845.84 773.30L856.04 763.10"/><circle cx="850.94" cy="768.20" r="1.3"/><path d="M869.61 746.30V756.90M864.31 751.60H874.91M864.51 746.50L874.71 756.70M864.51 756.70L874.71 746.50"/><circle cx="869.61" cy="751.60" r="1.3"/><path d="M888.28 728.20V738.80M882.98 733.50H893.58M883.18 728.40L893.38 738.60M883.18 738.60L893.38 728.40"/><circle cx="888.28" cy="733.50" r="1.3"/><path d="M906.94 710.90V721.50M901.64 716.20H912.24M901.84 711.10L912.04 721.30M901.84 721.30L912.04 711.10"/><circle cx="906.94" cy="716.20" r="1.3"/><path d="M925.61 680.10V690.70M920.31 685.40H930.91M920.51 680.30L930.71 690.50M920.51 690.50L930.71 680.30"/><circle cx="925.61" cy="685.40" r="1.3"/><path d="M944.28 692.10V702.70M938.98 697.40H949.58M939.18 692.30L949.38 702.50M939.18 702.50L949.38 692.30"/><circle cx="944.28" cy="697.40" r="1.3"/><path d="M962.94 727.10V737.70M957.64 732.40H968.24M957.84 727.30L968.04 737.50M957.84 737.50L968.04 727.30"/><circle cx="962.94" cy="732.40" r="1.3"/><path d="M981.61 713.10V723.70M976.31 718.40H986.91M976.51 713.30L986.71 723.50M976.51 723.50L986.71 713.30"/><circle cx="981.61" cy="718.40" r="1.3"/><path d="M1000.28 708.30V718.90M994.98 713.60H1005.58M995.18 708.50L1005.38 718.70M995.18 718.70L1005.38 708.50"/><circle cx="1000.28" cy="713.60" r="1.3"/><path d="M1018.94 685.50V696.10M1013.64 690.80H1024.24M1013.84 685.70L1024.04 695.90M1013.84 695.90L1024.04 685.70"/><circle cx="1018.94" cy="690.80" r="1.3"/><path d="M1037.61 663.30V673.90M1032.31 668.60H1042.91M1032.51 663.50L1042.71 673.70M1032.51 673.70L1042.71 663.50"/><circle cx="1037.61" cy="668.60" r="1.3"/><path d="M1056.28 645.90V656.50M1050.98 651.20H1061.58M1051.18 646.10L1061.38 656.30M1051.18 656.30L1061.38 646.10"/><circle cx="1056.28" cy="651.20" r="1.3"/><path d="M1074.94 626.70V637.30M1069.64 632.00H1080.24M1069.84 626.90L1080.04 637.10M1069.84 637.10L1080.04 626.90"/><circle cx="1074.94" cy="632.00" r="1.3"/><path d="M1093.61 655.70V666.30M1088.31 661.00H1098.91M1088.51 655.90L1098.71 666.10M1088.51 666.10L1098.71 655.90"/><circle cx="1093.61" cy="661.00" r="1.3"/><path d="M1112.28 693.10V703.70M1106.98 698.40H1117.58M1107.18 693.30L1117.38 703.50M1107.18 703.50L1117.38 693.30"/><circle cx="1112.28" cy="698.40" r="1.3"/><path d="M1130.94 700.90V711.50M1125.64 706.20H1136.24M1125.84 701.10L1136.04 711.30M1125.84 711.30L1136.04 701.10"/><circle cx="1130.94" cy="706.20" r="1.3"/><path d="M1149.61 712.90V723.50M1144.31 718.20H1154.91M1144.51 713.10L1154.71 723.30M1144.51 723.30L1154.71 713.10"/><circle cx="1149.61" cy="718.20" r="1.3"/><path d="M1168.28 712.90V723.50M1162.98 718.20H1173.58M1163.18 713.10L1173.38 723.30M1163.18 723.30L1173.38 713.10"/><circle cx="1168.28" cy="718.20" r="1.3"/><path d="M1186.94 727.00V737.60M1181.64 732.30H1192.24M1181.84 727.20L1192.04 737.40M1181.84 737.40L1192.04 727.20"/><circle cx="1186.94" cy="732.30" r="1.3"/><path d="M1205.61 726.10V736.70M1200.31 731.40H1210.91M1200.51 726.30L1210.71 736.50M1200.51 736.50L1210.71 726.30"/><circle cx="1205.61" cy="731.40" r="1.3"/><path d="M1224.28 724.30V734.90M1218.98 729.60H1229.58M1219.18 724.50L1229.38 734.70M1219.18 734.70L1229.38 724.50"/><circle cx="1224.28" cy="729.60" r="1.3"/><path d="M1242.94 736.30V746.90M1237.64 741.60H1248.24M1237.84 736.50L1248.04 746.70M1237.84 746.70L1248.04 736.50"/><circle cx="1242.94" cy="741.60" r="1.3"/><path d="M1261.61 763.20V773.80M1256.31 768.50H1266.91M1256.51 763.40L1266.71 773.60M1256.51 773.60L1266.71 763.40"/><circle cx="1261.61" cy="768.50" r="1.3"/><path d="M1280.28 750.10V760.70M1274.98 755.40H1285.58M1275.18 750.30L1285.38 760.50M1275.18 760.50L1285.38 750.30"/><circle cx="1280.28" cy="755.40" r="1.3"/><path d="M1298.94 744.10V754.70M1293.64 749.40H1304.24M1293.84 744.30L1304.04 754.50M1293.84 754.50L1304.04 744.30"/><circle cx="1298.94" cy="749.40" r="1.3"/><path d="M1317.61 730.90V741.50M1312.31 736.20H1322.91M1312.51 731.10L1322.71 741.30M1312.51 741.30L1322.71 731.10"/><circle cx="1317.61" cy="736.20" r="1.3"/><path d="M1336.28 726.70V737.30M1330.98 732.00H1341.58M1331.18 726.90L1341.38 737.10M1331.18 737.10L1341.38 726.90"/><circle cx="1336.28" cy="732.00" r="1.3"/><path d="M1354.94 715.30V725.90M1349.64 720.60H1360.24M1349.84 715.50L1360.04 725.70M1349.84 725.70L1360.04 715.50"/><circle cx="1354.94" cy="720.60" r="1.3"/><path d="M1373.61 693.10V703.70M1368.31 698.40H1378.91M1368.51 693.30L1378.71 703.50M1368.51 703.50L1378.71 693.30"/><circle cx="1373.61" cy="698.40" r="1.3"/><path d="M1392.28 703.90V714.50M1386.98 709.20H1397.58M1387.18 704.10L1397.38 714.30M1387.18 714.30L1397.38 704.10"/><circle cx="1392.28" cy="709.20" r="1.3"/><path d="M1410.94 739.30V749.90M1405.64 744.60H1416.24M1405.84 739.50L1416.04 749.70M1405.84 749.70L1416.04 739.50"/><circle cx="1410.94" cy="744.60" r="1.3"/><path d="M1448.28 723.10V733.70M1442.98 728.40H1453.58M1443.18 723.30L1453.38 733.50M1443.18 733.50L1453.38 723.30"/><circle cx="1448.28" cy="728.40" r="1.3"/></g>
<text x="96" y="919.1" text-anchor="end">0</text>
<text x="96" y="815.9" text-anchor="end">5</text>
<text x="96" y="712.6" text-anchor="end">10</text>
<text x="96" y="609.4" text-anchor="end">15</text>
<text x="96" y="506.1" text-anchor="end">20</text>
<text x="96" y="402.9" text-anchor="end">25</text>
<text x="96" y="299.6" text-anchor="end">30</text>
<text x="96" y="196.3" text-anchor="end">35</text>
<text x="96" y="93.1" text-anchor="end">40</text>
<text x="110.7" y="947.3" text-anchor="middle">12/16</text>
<text x="260.7" y="947.3" text-anchor="middle">12/17</text>
<text x="409.7" y="947.3" text-anchor="middle">12/18</text>
<text x="558.7" y="947.3" text-anchor="middle">12/19</text>
<text x="708.7" y="947.3" text-anchor="middle">12/20</text>
<text x="857.7" y="947.3" text-anchor="middle">12/21</text>
<text x="1006.7" y="947.3" text-anchor="middle">12/22</text>
<text x="1156.7" y="947.3" text-anchor="middle">12/23</text>
<text x="1305.7" y="947.3" text-anchor="middle">12/24</text>
<text x="1454.7" y="947.3" text-anchor="middle">12/25</text>
<path d="M110 910.5H123M1455 910.5H1443M110 806.5H123M1455 806.5H1443M110 703.5H123M1455 703.5H1443M110 600.5H123M1455 600.5H1443M110 497.5H123M1455 497.5H1443M110 393.5H123M1455 393.5H1443M110 290.5H123M1455 290.5H1443M110 187.5H123M1455 187.5H1443M110 84.5H123M1455 84.5H1443M110.5 911V898M110.5 84V97M260.5 911V898M260.5 84V97M409.5 911V898M409.5 84V97M558.5 911V898M558.5 84V97M708.5 911V898M708.5 84V97M857.5 911V898M857.5 84V97M1006.5 911V898M1006.5 84V97M1156.5 911V898M1156.5 84V97M1305.5 911V898M1305.5 84V97M1454.5 911V898M1454.5 84V97" stroke="#000" stroke-width="1" fill="none"/>
<rect x="110.5" y="84.5" width="1344" height="826" stroke="#000" stroke-width="1" fill="none"/>
<text class="b t" x="783.5" y="51.6" text-anchor="middle">Freeman - Tier 2 - Wind speed - 12/17/2025 00z forecast</text>
<text class="b" x="783.2" y="989" text-anchor="middle">Date</text>
<text class="b" transform="translate(34.3 497.3) rotate(-90)" text-anchor="middle">20-ft wind speed (mph)</text>
<text x="1337.8" y="118.4" text-anchor="end">ECMWF</text>
<g fill="#0000cd"><rect x="1384.00" y="104.90" width="9" height="9"/></g>
<text x="1337.8" y="146.4" text-anchor="end">HRRR</text>
<g fill="#006400"><circle cx="1388.50" cy="137.40" r="5.6"/></g>
<text x="1337.8" y="174.4" text-anchor="end">NAM 3 km</text>
<g fill="#ff0000"><path d="M1388.50 159.50L1394.10 169.80H1382.90Z"/></g>
<text x="1337.8" y="202.4" text-anchor="end">NAM 12 km</text>
<g fill="#000000"><path d="M1388.50 199.25L1394.10 188.95H1382.90Z"/></g>
<text x="1337.8" y="230.4" text-anchor="end">GFS 0.125°</text>
<g fill="#bebebe"><path d="M1388.50 215.80L1394.10 221.40L1388.50 227.00L1382.90 221.40Z"/></g>
<text x="1337.8" y="258.4" text-anchor="end">GFS 0.250°</text>
<g fill="#87ceeb"><path d="M1388.50 254.95L1383.17 251.08L1385.21 244.82L1391.79 244.82L1393.83 251.08Z"/></g>
<text x="1337.8" y="286.4" text-anchor="end">NBM</text>
<g fill="#ffa500" stroke="#ffa500" stroke-width="1.05" stroke-linecap="round"><path d="M1388.45 272.10V282.70M1383.15 277.40H1393.75M1383.35 272.30L1393.55 282.50M1383.35 282.50L1393.55 272.30"/><circle cx="1388.45" cy="277.40" r="1.3"/></g>
</svg></body></html>
